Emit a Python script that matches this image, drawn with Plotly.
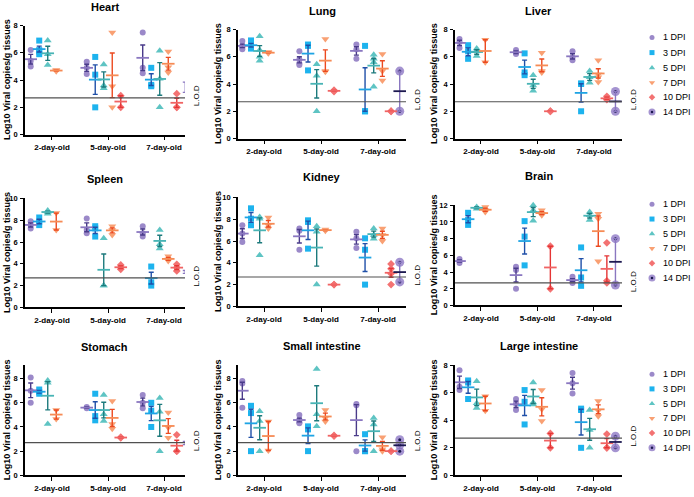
import numpy as np
import plotly.graph_objects as go

W, H = 694, 497
FONT = "Arial, 'Liberation Sans', sans-serif"

dpi_names = ["1 DPI", "3 DPI", "5 DPI", "7 DPI", "10 DPI", "14 DPI"]
age_groups = ["2-day-old", "5-day-old", "7-day-old"]
lod_value = 2.7
y_tick_values = [0, 2, 4, 6, 8, 10, 12]

# individual animal values per DPI: [2-day-old, 5-day-old, 7-day-old]
heart = {
    "1 DPI": [[6.2, 5.4, 5.0], [5.35, 4.9, 4.45], [7.5, 4.9, 4.5]],
    "3 DPI": [[6.9, 6.1, 5.9, 6.2], [5.7, 4.4, 2.0], [4.9, 3.65, 3.55]],
    "5 DPI": [[6.9, 5.9, 5.1], [5.15, 3.6, 3.4], [6.15, 4.1, 2.0]],
    "7 DPI": [[4.75, 4.7, 4.65], [7.5, 3.55, 2.0], [6.1, 4.95, 4.55]],
    "10 DPI": [[], [2.85, 2.0], [3.0, 2.0, 2.0]],
    "14 DPI": [[], [], [3.85, 3.1]],
}
lung = {
    "1 DPI": [[7.15, 6.8, 6.55, 6.7], [6.4, 5.8, 5.5, 5.4], [6.9, 6.55, 5.85]],
    "3 DPI": [[7.2, 6.7, 6.6, 6.9], [6.9, 6.8, 5.0], [6.8, 2.0, 2.0]],
    "5 DPI": [[7.5, 6.5, 5.7, 6.0], [5.45, 4.6, 2.0], [6.15, 5.85, 5.6, 3.8]],
    "7 DPI": [[6.3, 6.25, 6.35], [7.3, 4.95, 4.9], [6.2, 4.95, 4.25]],
    "10 DPI": [[], [3.55, 3.45, 3.5], [2.0, 2.0]],
    "14 DPI": [[], [], [4.95, 2.0]],
}
liver = {
    "1 DPI": [[7.3, 7.1, 6.65], [6.5, 6.3, 6.2], [6.4, 5.95, 5.75]],
    "3 DPI": [[6.85, 6.4, 5.85], [6.25, 4.85, 4.65], [4.05, 4.0, 2.0]],
    "5 DPI": [[6.6, 6.4, 6.05], [4.65, 3.9, 3.5], [4.95, 4.5, 4.1]],
    "7 DPI": [[7.25, 5.6], [6.3, 4.95, 4.85], [5.75, 4.7, 4.5, 4.15]],
    "10 DPI": [[], [2.0, 2.0], [3.1, 2.9, 2.85]],
    "14 DPI": [[], [], [3.45, 2.0]],
}
spleen = {
    "1 DPI": [[7.9, 7.55, 7.25], [8.15, 7.1, 6.8], [7.45, 6.8, 6.5]],
    "3 DPI": [[8.25, 7.85, 7.55], [7.45, 7.25, 6.5], [3.75, 2.3, 2.0]],
    "5 DPI": [[8.9, 8.75, 8.6], [6.35, 2.0, 2.0], [7.1, 5.8, 5.4]],
    "7 DPI": [[8.65, 7.1], [7.45, 7.1, 6.65], [4.7, 4.4, 4.25]],
    "10 DPI": [[], [3.9, 3.65, 3.5], [3.95, 3.65, 3.35]],
    "14 DPI": [[], [], [3.5, 3.2, 3.05]],
}
kidney = {
    "1 DPI": [[7.45, 6.7, 5.9], [7.15, 6.95, 5.2], [6.85, 6.25, 5.35]],
    "3 DPI": [[9.0, 8.05, 7.45], [7.9, 7.75, 5.3], [6.25, 5.2, 2.0]],
    "5 DPI": [[8.2, 8.05, 4.7], [7.35, 6.85, 2.0], [7.15, 6.55, 6.2]],
    "7 DPI": [[8.15, 7.45, 7.15], [7.05, 6.95], [7.15, 6.55, 6.0]],
    "10 DPI": [[], [2.0, 2.0], [3.9, 3.45, 3.0, 2.0]],
    "14 DPI": [[], [], [4.05, 2.25]],
}
brain = {
    "1 DPI": [[5.55, 5.3, 5.1], [4.65, 4.25, 2.0], [3.45, 3.15, 2.85, 2.7]],
    "3 DPI": [[11.1, 10.25, 9.65], [10.1, 8.25, 4.8], [6.95, 3.35, 2.35]],
    "5 DPI": [[11.8, 11.6], [12.0, 11.4, 10.15], [11.2, 10.8, 10.25]],
    "7 DPI": [[11.8, 11.4, 11.2], [11.4, 11.0, 10.8], [11.0, 10.4, 5.3]],
    "10 DPI": [[], [7.1, 2.0], [7.5, 2.95, 2.7]],
    "14 DPI": [[], [], [8.0, 2.45]],
}
stomach = {
    "1 DPI": [[8.1, 7.0, 6.0], [5.65, 5.55], [6.65, 6.0, 5.55]],
    "3 DPI": [[7.1, 6.9, 6.75], [6.75, 4.9, 4.55], [6.0, 5.35, 4.0]],
    "5 DPI": [[7.85, 7.65, 4.25], [6.65, 5.05, 4.5], [6.4, 5.25, 2.0]],
    "7 DPI": [[5.4, 4.65], [6.15, 4.25, 3.85], [5.2, 3.95, 3.1]],
    "10 DPI": [[], [3.15, 3.1], [3.35, 2.0, 2.0]],
    "14 DPI": [[], [], [2.9, 2.65, 2.45]],
}
small_intestine = {
    "1 DPI": [[7.8, 7.6, 5.6], [5.0, 4.6, 4.4, 4.3], [5.9, 5.8, 2.0]],
    "3 DPI": [[5.75, 5.15, 2.0], [4.05, 3.8, 2.0], [3.4, 2.0, 2.0]],
    "5 DPI": [[5.3, 4.5, 2.0], [8.8, 5.05, 4.05], [4.75, 4.2, 2.0]],
    "7 DPI": [[4.45, 2.05], [5.4, 4.75, 4.45], [3.15, 2.15, 2.0]],
    "10 DPI": [[], [3.3, 3.25], [2.0, 2.0]],
    "14 DPI": [[], [], [2.95, 2.5, 2.0]],
}
large_intestine = {
    "1 DPI": [[7.65, 6.45, 6.2], [5.55, 5.2, 4.75], [7.45, 6.7, 5.95]],
    "3 DPI": [[6.9, 6.75, 5.55], [6.2, 5.35, 3.7], [4.85, 4.75, 2.0]],
    "5 DPI": [[6.85, 5.25, 4.9], [6.75, 5.15, 5.3], [4.75, 3.3, 2.0]],
    "7 DPI": [[5.75, 4.7], [6.2, 4.8, 3.95], [5.4, 4.7, 4.3]],
    "10 DPI": [[], [3.05, 2.0], [3.0, 2.0, 2.0]],
    "14 DPI": [[], [], [2.85, 2.0]],
}

tissue_names = ["Heart", "Lung", "Liver", "Spleen", "Kidney", "Brain",
                "Stomach", "Small intestine", "Large intestine"]
tissue_data = [heart, lung, liver, spleen, kidney, brain,
               stomach, small_intestine, large_intestine]
tissue_ymax = [8, 8, 8, 10, 10, 12, 9.1, 9.1, 8]

# ---------------- layout (pixels) ----------------
col_px = [(25, 185), (238, 406), (455, 622)]
col_xrange = [(-0.482, 2.375), (-0.456, 2.49), (-0.46, 2.496)]
row_px = [[(22, 133), (26, 137), (26, 137)],
          [(198, 309), (197, 308), (205, 307)],
          [(368, 480), (368, 480), (368, 480)]]
title_py = [[3, 7, 7], [178, 176, 175], [349, 348, 348]]
ytitle_px = [7, 218, 434]
slot_w = 0.152

point_style = {
    "1 DPI": dict(symbol="circle", size=6, color="#9b89c9"),
    "3 DPI": dict(symbol="square", size=6, color="#1db3ee"),
    "5 DPI": dict(symbol="triangle-up", size=7, color="#5ec4c3"),
    "7 DPI": dict(symbol="triangle-down", size=7, color="#f9a073"),
    "10 DPI": dict(symbol="diamond", size=6, color="#f37272"),
    "14 DPI": dict(symbol="circle", size=9, color="#a594d1"),
}
legend_marker_size = {"1 DPI": 5, "3 DPI": 5, "5 DPI": 5.5, "7 DPI": 5.5,
                      "10 DPI": 5, "14 DPI": 7}
dot14 = "#1c1850"
mean_color = {"1 DPI": "#8a77c0", "3 DPI": "#1ea4e4", "5 DPI": "#48b4b5",
              "7 DPI": "#f68b55", "10 DPI": "#f06464", "14 DPI": "#1c1850"}
err_color = {"1 DPI": "#4a3b8a", "3 DPI": "#1f4fa8", "5 DPI": "#1d7a7c",
             "7 DPI": "#ec4a20", "10 DPI": "#e53535", "14 DPI": "#8a77c0"}

fig = go.Figure()
annotations = []
shapes = []
layout_axes = {}

for k, (name, data) in enumerate(zip(tissue_names, tissue_data)):
    r, c = divmod(k, 3)
    sfx = "" if k == 0 else str(k + 1)
    xa, ya = "x" + sfx, "y" + sfx
    # points
    for i, d in enumerate(dpi_names):
        xs, ys = [], []
        for g, vals in enumerate(data[d]):
            for v in vals:
                xs.append(g + (i - 2.5) * slot_w)
                ys.append(v)
        if not xs:
            continue
        st = point_style[d]
        fig.add_trace(go.Scatter(
            x=xs, y=ys, mode="markers", xaxis=xa, yaxis=ya, showlegend=False,
            cliponaxis=False, hoverinfo="skip",
            marker=dict(symbol=st["symbol"], size=st["size"], color=st["color"], line=dict(width=0))))
        if d == "14 DPI":
            fig.add_trace(go.Scatter(
                x=xs, y=ys, mode="markers", xaxis=xa, yaxis=ya, showlegend=False,
                cliponaxis=False, hoverinfo="skip",
                marker=dict(symbol="circle", size=3, color=dot14, line=dict(width=0))))
    # mean +/- SEM
    for i, d in enumerate(dpi_names):
        mx, my, se = [], [], []
        for g, vals in enumerate(data[d]):
            if not vals:
                continue
            arr = np.array(vals)
            mx.append(g + (i - 2.5) * slot_w)
            my.append(float(arr.mean()))
            se.append(float(arr.std(ddof=1) / np.sqrt(len(arr))) if len(arr) > 1 else 0.0)
        if not mx:
            continue
        fig.add_trace(go.Scatter(
            x=mx, y=my, mode="markers", xaxis=xa, yaxis=ya, showlegend=False,
            cliponaxis=False, hoverinfo="skip",
            marker=dict(symbol="line-ew", size=9, color=mean_color[d],
                        line=dict(width=1.8, color=mean_color[d])),
            error_y=dict(type="data", array=se, visible=True, color=err_color[d],
                         thickness=1.4, width=2.5)))

    x0, x1 = col_px[c]
    yt, yb = row_px[r][c]
    ymax = tissue_ymax[k]
    layout_axes["xaxis" + sfx] = dict(
        domain=[x0 / W, x1 / W], range=list(col_xrange[c]), anchor=ya,
        tickmode="array", tickvals=[0, 1, 2], ticktext=age_groups,
        showline=True, linecolor="black", linewidth=1.6, ticks="outside",
        ticklen=4, tickwidth=1.4, tickcolor="black", showgrid=False, zeroline=False,
        tickfont=dict(size=8, color="black", family=FONT, weight="bold"), fixedrange=True)
    layout_axes["yaxis" + sfx] = dict(
        domain=[1 - yb / H, 1 - yt / H], range=[0, ymax], anchor=xa,
        tickmode="array", tickvals=[t for t in y_tick_values if t <= ymax],
        showline=True, linecolor="black", linewidth=1.6, ticks="outside",
        ticklen=3, tickwidth=1.4, tickcolor="black", showgrid=False, zeroline=False,
        ticklabelstandoff=1,
        tickfont=dict(size=7.5, color="black", family=FONT, weight="bold"), fixedrange=True)

    # limit of detection
    shapes.append(dict(type="line", xref=xa + " domain", yref=ya, x0=0, x1=1,
                       y0=lod_value, y1=lod_value, line=dict(color="#505050", width=1.2)))
    annotations.append(dict(xref=xa + " domain", yref=ya, x=1, y=lod_value + 0.15,
                            xanchor="left", yanchor="middle", xshift=5, textangle=-90,
                            text="L.O.D", showarrow=False,
                            font=dict(size=8, color="black", family=FONT)))
    # panel title
    annotations.append(dict(xref="paper", yref="paper", x=(x0 + x1) / 2 / W,
                            y=1 - title_py[r][c] / H, xanchor="center", yanchor="middle",
                            text="<b>%s</b>" % name, showarrow=False,
                            font=dict(size=11, color="black", family=FONT)))
    # y axis title
    annotations.append(dict(xref="paper", yref="paper", x=ytitle_px[c] / W,
                            y=1 - (yt + yb) / 2 / H, xanchor="center", yanchor="middle",
                            textangle=-90, text="<b>Log10 Viral copies/g tissues</b>",
                            showarrow=False, font=dict(size=9, color="black", family=FONT)))

# ---------------- legends (one per panel row) ----------------
legend_rows = [[34, 49.5, 65, 80, 95, 110], [204, 219, 234, 249, 264, 279],
               [377, 392, 407, 422, 437, 452]]
legend_marker_x = 652
legend_text_x = 662
for rows in legend_rows:
    for d, yy in zip(dpi_names, rows):
        st = point_style[d]
        fig.add_trace(go.Scatter(
            x=[legend_marker_x], y=[yy], mode="markers", xaxis="x10", yaxis="y10",
            showlegend=False, hoverinfo="skip", cliponaxis=False,
            marker=dict(symbol=st["symbol"], size=legend_marker_size[d], color=st["color"],
                        line=dict(width=0))))
        if d == "14 DPI":
            fig.add_trace(go.Scatter(
                x=[legend_marker_x], y=[yy], mode="markers", xaxis="x10", yaxis="y10",
                showlegend=False, hoverinfo="skip", cliponaxis=False,
                marker=dict(symbol="circle", size=2.5, color=dot14, line=dict(width=0))))
        annotations.append(dict(xref="x10", yref="y10", x=legend_text_x, y=yy,
                                xanchor="left", yanchor="middle", text=d, showarrow=False,
                                borderpad=0,
                                font=dict(size=9, color="black", family=FONT)))

layout_axes["xaxis10"] = dict(domain=[0, 1], range=[0, W], anchor="y10", visible=False,
                              fixedrange=True)
layout_axes["yaxis10"] = dict(domain=[0, 1], range=[H, 0], anchor="x10", visible=False,
                              fixedrange=True)

fig.update_layout(
    width=W, height=H, autosize=False,
    margin=dict(l=0, r=0, t=0, b=0),
    paper_bgcolor="white", plot_bgcolor="rgba(0,0,0,0)",
    showlegend=False,
    font=dict(family=FONT, color="black"),
    annotations=annotations, shapes=shapes,
    **layout_axes,
)

fig.write_html("out.html", config={"displayModeBar": False},
               post_script="document.body.style.margin='0';document.body.style.overflow='hidden';")
